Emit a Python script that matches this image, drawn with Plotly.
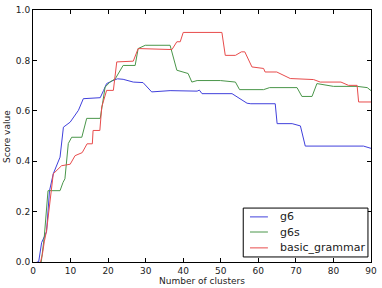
import plotly.graph_objects as go

# g6 (blue)
g6_x = [1, 1.5, 2.3, 3.6, 4.4, 5.4, 7.2, 7.6, 8.1, 9.9, 12.1, 13.4, 17.9, 18.8, 19.6, 21.3, 22.5, 24,
        26.7, 29.3, 31.6, 36.5, 43.7, 44.3, 45, 53, 57, 58, 64.5, 65, 69, 71.2, 72.5, 88, 90]
g6_y = [0, 0, 0.077, 0.12, 0.283, 0.35, 0.416, 0.469, 0.535, 0.555, 0.602, 0.648, 0.652, 0.681, 0.708,
        0.72, 0.727, 0.725, 0.714, 0.712, 0.675, 0.68, 0.678, 0.682, 0.668, 0.668, 0.63, 0.628, 0.628,
        0.549, 0.549, 0.54, 0.46, 0.46, 0.451]

# g6s (green)
g6s_x = [2.2, 3, 4, 7.2, 8, 8.5, 9.4, 10.3, 13, 14.3, 17.9, 18.3, 19.2, 20.5, 21.9, 24, 27.2, 28, 29.9,
         36.5, 37.5, 38.3, 41.3, 42.3, 43.7, 49.9, 53.9, 55, 61.4, 63, 70.3, 71.6, 74.3, 75.6, 80, 86.3,
         89, 90]
g6s_y = [0, 0.1, 0.283, 0.283, 0.316, 0.33, 0.47, 0.495, 0.495, 0.57, 0.57, 0.615, 0.694, 0.714, 0.727,
         0.78, 0.78, 0.847, 0.86, 0.86, 0.8, 0.761, 0.748, 0.714, 0.72, 0.72, 0.714, 0.684, 0.684, 0.692,
         0.692, 0.657, 0.657, 0.708, 0.697, 0.697, 0.692, 0.68]

# basic_grammar (red)
bg_x = [2, 2.5, 3, 3.6, 5.4, 7.6, 9.9, 11.2, 13.1, 14.4, 15.8, 16, 17.8, 18.3, 19.6, 21.4, 22.3, 26.7,
        28, 37, 38.3, 39.2, 40, 50.3, 51.2, 53.9, 55.5, 56.4, 58.3, 61.4, 61.8, 64.9, 68.5, 74.7, 76.5,
        82, 84, 86.3, 86.7, 90]
bg_y = [0, 0.03, 0.08, 0.123, 0.35, 0.382, 0.388, 0.422, 0.434, 0.469, 0.469, 0.522, 0.522, 0.615,
        0.681, 0.681, 0.794, 0.797, 0.847, 0.843, 0.874, 0.874, 0.911, 0.911, 0.82, 0.82, 0.834, 0.834,
        0.774, 0.768, 0.754, 0.754, 0.728, 0.724, 0.714, 0.714, 0.701, 0.701, 0.635, 0.635]

series_names = ["g6", "g6s", "basic_grammar"]
series_colors = ["#4040dc", "#4a964a", "#e84c4c"]

x_ticks = [0, 10, 20, 30, 40, 50, 60, 70, 80, 90]
y_ticks = [0.0, 0.2, 0.4, 0.6, 0.8, 1.0]

FONT = "DejaVu Sans"
TXT = "#222"

fig = go.Figure()
for (xs, ys), name, col in zip([(g6_x, g6_y), (g6s_x, g6s_y), (bg_x, bg_y)], series_names, series_colors):
    fig.add_trace(go.Scatter(x=xs, y=ys, mode="lines", name=name,
                             line=dict(color=col, width=1), showlegend=False))

axis_common = dict(showline=True, mirror="ticks", linecolor="black", linewidth=1,
                   ticks="inside", ticklen=4, tickcolor="black", showgrid=False, zeroline=False,
                   automargin=False,
                   tickfont=dict(family=FONT, size=9, color=TXT))

# legend drawn in paper coordinates
shapes = [dict(type="rect", xref="paper", yref="paper", x0=0.622, x1=0.991, y0=0.02, y1=0.214,
               line=dict(color="black", width=1), fillcolor="white", layer="above")]
annotations = []
row_y = [0.179, 0.119, 0.056]
for name, col, ry in zip(series_names, series_colors, row_y):
    shapes.append(dict(type="line", xref="paper", yref="paper", x0=0.642, x1=0.695, y0=ry, y1=ry,
                       line=dict(color=col, width=1), layer="above"))
    annotations.append(dict(text=name, x=0.725, y=ry, xref="paper", yref="paper",
                            xanchor="left", yanchor="middle", showarrow=False,
                            font=dict(family=FONT, size=11, color=TXT)))

annotations += [
    dict(text="Number of clusters", x=0.5, y=-0.077, xref="paper", yref="paper",
         xanchor="center", yanchor="middle", showarrow=False,
         font=dict(family=FONT, size=9, color=TXT)),
    dict(text="Score value", x=-0.077, y=0.5, xref="paper", yref="paper",
         xanchor="center", yanchor="middle", showarrow=False, textangle=-90,
         font=dict(family=FONT, size=9, color=TXT)),
]

fig.update_layout(
    width=382, height=288,
    margin=dict(l=33, r=11, t=10, b=26),
    paper_bgcolor="white", plot_bgcolor="white",
    font=dict(family=FONT, size=9, color=TXT),
    xaxis=dict(range=[0, 90], tickvals=x_ticks, ticktext=[str(v) for v in x_ticks], **axis_common),
    yaxis=dict(range=[0, 1], tickvals=y_ticks, ticktext=[f"{v:.1f}" for v in y_ticks], **axis_common),
    showlegend=False,
    shapes=shapes,
    annotations=annotations,
)

fig.write_html("out.html", config={"displayModeBar": False},
               post_script="document.body.style.margin='0';document.body.style.overflow='hidden';")
